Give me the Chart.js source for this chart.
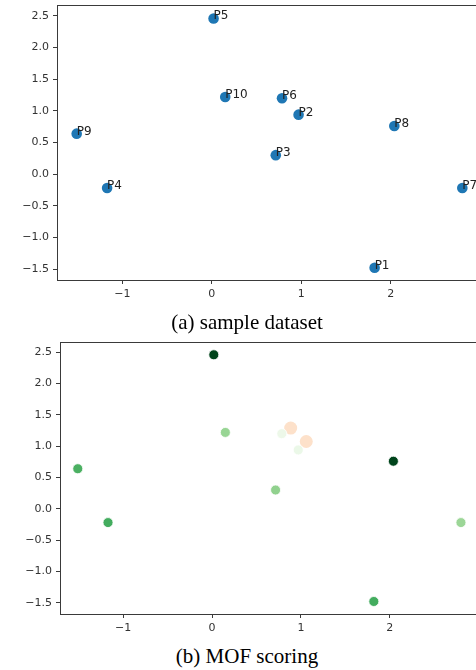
<!DOCTYPE html>
<html>
<head>
<meta charset="utf-8">
<script src="https://cdn.jsdelivr.net/npm/chart.js@4/dist/chart.umd.min.js"></script>
<style>
  html, body { margin: 0; padding: 0; background: #fff; width: 476px; height: 670px; overflow: hidden; position: relative; }
  .panel { position: absolute; left: 0; width: 476px; overflow: hidden; }
  canvas { display: block; }
  .cap { position: absolute; left: 0; width: 494px; text-align: center;
         font-family: "Liberation Serif", "Times New Roman", serif; font-size: 21px;
         line-height: 21px; color: #000; }
</style>
</head>
<body>
<div class="panel" style="top:0;height:310px"><canvas id="sample" width="490" height="310"></canvas></div>
<div class="panel" style="top:330px;height:310px"><canvas id="mof" width="490" height="310"></canvas></div>
<div class="cap" style="top:312px">(a) sample dataset</div>
<div class="cap" style="top:646px">(b) MOF scoring</div>
<script>
// Sample points P1..P10
const pointNames = ['P1', 'P2', 'P3', 'P4', 'P5', 'P6', 'P7', 'P8', 'P9', 'P10'];
const pointX = [1.82, 0.97, 0.715, -1.17, 0.02, 0.785, 2.80, 2.04, -1.51, 0.15];
const pointY = [-1.48, 0.94, 0.30, -0.22, 2.46, 1.20, -0.22, 0.76, 0.64, 1.22];

// MOF score per point (0 = low, 1 = high), shown on the Greens scale
const mofScores = [0.62, 0.08, 0.42, 0.62, 1.0, 0.07, 0.39, 1.0, 0.60, 0.40];

// Extra reference points in the scoring panel
const extraX = [0.885, 1.06];
const extraY = [1.29, 1.075];

// Axis ticks
const xTicks = [-1, 0, 1, 2];
const yTicks = [-1.5, -1.0, -0.5, 0.0, 0.5, 1.0, 1.5, 2.0, 2.5];

const greens = ['#f7fcf5', '#e5f5e0', '#c7e9c0', '#a1d99b', '#74c476', '#41ab5d', '#238b45', '#006d2c', '#00441b'];
function hexToRgb(h) { return [1, 3, 5].map(i => parseInt(h.slice(i, i + 2), 16)); }
function greensColor(t) {
  const p = Math.max(0, Math.min(1, t)) * (greens.length - 1);
  const i = Math.min(greens.length - 2, Math.floor(p));
  const f = p - i;
  const a = hexToRgb(greens[i]), b = hexToRgb(greens[i + 1]);
  const c = a.map((v, k) => Math.round(v + (b[k] - v) * f));
  return `rgb(${c[0]},${c[1]},${c[2]})`;
}

const fmtX = v => (v < 0 ? '\u2212' + Math.abs(v) : String(v));
const fmtY = v => (v < 0 ? '\u2212' + Math.abs(v).toFixed(1) : v.toFixed(1));

const AX = '#3a3a3a';
const tickFont = { family: 'DejaVu Sans', size: 11 };

function axes(xr, yr, xh, yw) {
  return {
    x: {
      type: 'linear', min: xr[0], max: xr[1],
      afterBuildTicks: s => { s.ticks = xTicks.map(v => ({ value: v })); },
      afterFit: s => { s.height = xh; s.paddingLeft = 0; s.paddingRight = 0; },
      grid: { display: true, drawOnChartArea: false, drawTicks: true, tickLength: 4, tickColor: AX, tickWidth: 1 },
      border: { display: true, color: AX, width: 1 },
      ticks: { font: tickFont, color: '#333', padding: 4, maxRotation: 0, autoSkip: false, callback: v => fmtX(v) }
    },
    y: {
      type: 'linear', min: yr[0], max: yr[1],
      afterBuildTicks: s => { s.ticks = yTicks.map(v => ({ value: v })); },
      afterFit: s => { s.width = yw; s.paddingTop = 0; s.paddingBottom = 0; },
      grid: { display: true, drawOnChartArea: false, drawTicks: true, tickLength: 4, tickColor: AX, tickWidth: 1 },
      border: { display: true, color: AX, width: 1 },
      ticks: { font: tickFont, color: '#333', padding: 4, autoSkip: false, callback: v => fmtY(v) }
    }
  };
}

// Top and right spines of the plot frame
const frame = {
  id: 'frame',
  afterDraw(chart) {
    const { ctx, chartArea: a } = chart;
    ctx.save();
    ctx.strokeStyle = AX;
    ctx.lineWidth = 1;
    ctx.beginPath();
    ctx.moveTo(a.left, Math.round(a.top) + 0.5);
    ctx.lineTo(a.right, Math.round(a.top) + 0.5);
    ctx.lineTo(a.right, a.bottom);
    ctx.stroke();
    ctx.restore();
  }
};

// Point name annotations next to each marker
const pointLabels = {
  id: 'pointLabels',
  afterDatasetsDraw(chart) {
    const ctx = chart.ctx;
    const meta = chart.getDatasetMeta(0);
    ctx.save();
    ctx.font = '12px "DejaVu Sans"';
    ctx.fillStyle = '#222';
    ctx.textAlign = 'left';
    ctx.textBaseline = 'alphabetic';
    meta.data.forEach((el, i) => ctx.fillText(pointNames[i], el.x, el.y + 1));
    ctx.restore();
  }
};

const common = {
  responsive: false,
  animation: false,
  devicePixelRatio: 1,
  plugins: { legend: { display: false }, tooltip: { enabled: false } }
};

new Chart(document.getElementById('sample'), {
  type: 'scatter',
  data: {
    datasets: [{
      data: pointX.map((x, i) => ({ x, y: pointY[i] })),
      backgroundColor: '#1f77b4', borderColor: '#1f77b4', borderWidth: 0,
      pointRadius: 5.3
    }]
  },
  options: Object.assign({}, common, {
    layout: { padding: { top: 4, right: 8, bottom: 0, left: 0 } },
    scales: axes([-1.73, 3.02], [-1.673, 2.668], 30, 57)
  }),
  plugins: [frame, pointLabels]
});

new Chart(document.getElementById('mof'), {
  type: 'scatter',
  data: {
    datasets: [{
      data: pointX.map((x, i) => ({ x, y: pointY[i] })),
      backgroundColor: mofScores.map(greensColor),
      borderColor: '#ffffff', borderWidth: 0.8,
      pointRadius: 5
    }, {
      data: extraX.map((x, i) => ({ x, y: extraY[i] })),
      backgroundColor: '#fde1ca', borderColor: '#fde1ca', borderWidth: 0,
      pointRadius: 6.5
    }]
  },
  options: Object.assign({}, common, {
    layout: { padding: { top: 12, right: 9.5, bottom: 0, left: 0 } },
    scales: axes([-1.71, 3.02], [-1.68, 2.664], 26, 60)
  }),
  plugins: [frame]
});
</script>
</body>
</html>
